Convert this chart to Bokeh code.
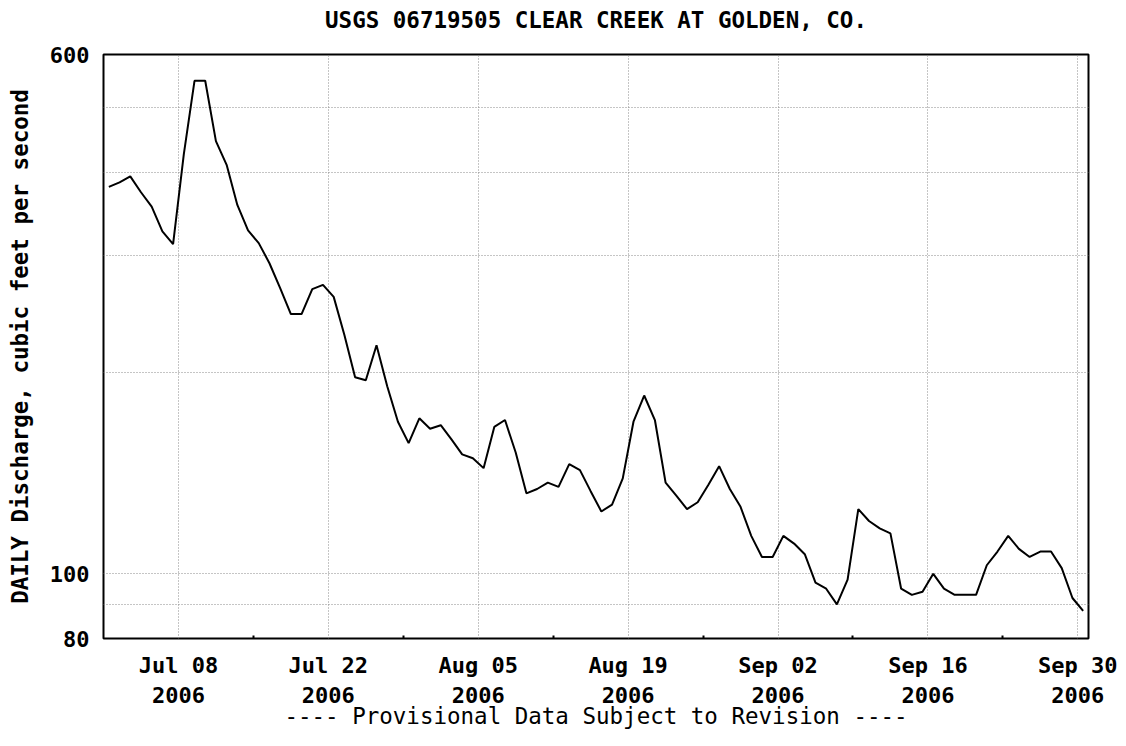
import pandas as pd
from bokeh.plotting import figure
from bokeh.models import FixedTicker, DatetimeTickFormatter, Range1d
from bokeh.embed import file_html
from bokeh.resources import INLINE

# Daily mean discharge (cfs), Jul 1 .. Sep 30, 2006
discharge = [
    380, 386, 394, 373, 355, 326, 312, 425, 548, 548,
    445, 410, 357, 327, 313, 292, 268, 245, 245, 267,
    271, 260, 228, 197, 195, 220, 191, 169, 157, 171,
    165, 167, 159, 151, 149, 144, 166, 170, 152, 132,
    134, 137, 135, 146, 143, 133, 124, 127, 139, 169,
    185, 170, 137, 131, 125, 128, 136, 145, 134, 126,
    114, 106, 106, 114, 111, 107, 97, 95, 90, 98,
    125, 120, 117, 115, 95, 93, 94, 100, 95, 93,
    93, 93, 103, 108, 114, 109, 106, 108, 108, 102,
    92, 88,
]
dates = pd.date_range("2006-07-01 12:00", periods=len(discharge), freq="D")

x_major = ["2006-07-08", "2006-07-22", "2006-08-05", "2006-08-19",
           "2006-09-02", "2006-09-16", "2006-09-30"]
x_minor = ["2006-07-15", "2006-07-29", "2006-08-12", "2006-08-26",
           "2006-09-09", "2006-09-23"]
y_ticks = [80, 90, 100, 200, 300, 400, 500, 600]
y_labels = {80: "80", 100: "100", 600: "600"}

title_text = "USGS 06719505 CLEAR CREEK AT GOLDEN, CO."
y_title = "DAILY Discharge, cubic feet per second"
x_title = "---- Provisional Data Subject to Revision ----"

FONT = "DejaVu Sans Mono"


def ms(s):
    return pd.Timestamp(s).value / 1e6


p = figure(width=1126, height=746, x_axis_type="datetime", y_axis_type="log",
           x_range=Range1d(ms("2006-07-01"), ms("2006-10-01")),
           y_range=Range1d(80, 600),
           output_backend="svg", toolbar_location=None,
           min_border_left=103, min_border_right=38,
           min_border_top=54, min_border_bottom=108)

# trailing empty line lifts the title further above the frame
p.title.text = title_text + "\n"
p.title.text_font = FONT
p.title.text_font_size = "22.5px"
p.title.text_font_style = "bold"
p.title.text_color = "black"
p.title.text_line_height = 0.68
p.title.align = "center"
p.title.standoff = 8

p.line(dates, discharge, line_color="black", line_width=2)

p.outline_line_color = "black"
p.outline_line_width = 2
p.background_fill_color = "white"
p.border_fill_color = "white"

x_ticker = FixedTicker(ticks=[ms(d) for d in x_major],
                       minor_ticks=[ms(d) for d in x_minor])

# x axis
xa = p.xaxis[0]
xa.ticker = x_ticker
fmt = "%b %d\n%Y"
xa.formatter = DatetimeTickFormatter(days=fmt, months=fmt, years=fmt,
                                     hours=fmt, hourmin=fmt, minutes=fmt,
                                     minsec=fmt, seconds=fmt, milliseconds=fmt,
                                     microseconds=fmt)
xa.major_tick_out = 0
xa.major_tick_in = 0
xa.minor_tick_out = 0
xa.minor_tick_in = 3
xa.minor_tick_line_width = 2
xa.axis_line_color = None
xa.major_label_text_font = FONT
xa.major_label_text_font_size = "22px"
xa.major_label_text_font_style = "bold"
xa.major_label_text_color = "black"
xa.major_label_standoff = 14
xa.axis_label = x_title
xa.axis_label_text_font = FONT
xa.axis_label_text_font_size = "22.5px"
xa.axis_label_text_font_style = "normal"
xa.axis_label_text_color = "black"
xa.axis_label_standoff = -8

# y axis
ya = p.yaxis[0]
ya.ticker = FixedTicker(ticks=y_ticks)
ya.major_label_overrides = {t: y_labels.get(t, "") for t in y_ticks}
ya.major_tick_out = 0
ya.major_tick_in = 0
ya.minor_tick_out = 0
ya.minor_tick_in = 0
ya.axis_line_color = None
ya.major_label_text_font = FONT
ya.major_label_text_font_size = "22px"
ya.major_label_text_font_style = "bold"
ya.major_label_text_color = "black"
ya.major_label_standoff = 14
ya.axis_label = y_title
ya.axis_label_text_font = FONT
ya.axis_label_text_font_size = "22.5px"
ya.axis_label_text_font_style = "bold"
ya.axis_label_text_color = "black"
ya.axis_label_standoff = 14

for g in (p.xgrid[0], p.ygrid[0]):
    g.grid_line_color = "#8a8a8a"
    g.grid_line_dash = "1 2"
    g.grid_line_width = 1

open("out.html", "w").write(file_html(p, INLINE))
